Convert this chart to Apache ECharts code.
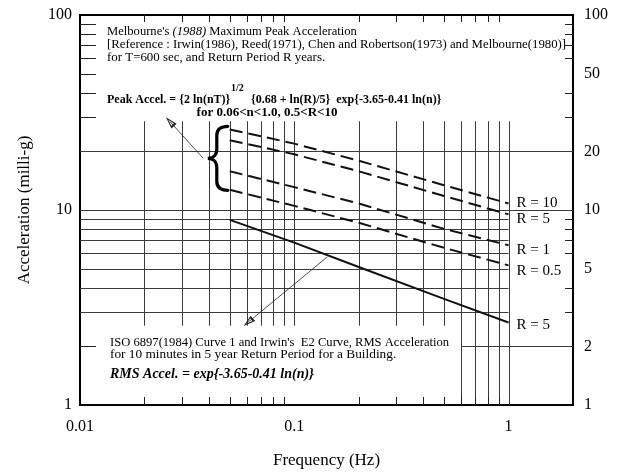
<!DOCTYPE html>
<html>
<head>
<meta charset="utf-8">
<script src="https://cdn.jsdelivr.net/npm/echarts@6/dist/echarts.min.js"></script>
<style>
  html, body { margin: 0; padding: 0; background: #fff; }
  #chart { width: 617px; height: 474px; }
</style>
</head>
<body>
<div id="chart"></div>
<script>
const FONT = '"Liberation Serif", "Times New Roman", serif';

// Frequencies (Hz) at which the curves are sampled
const freq = [0.05, 0.1, 0.2, 0.5, 1.0];

// Maximum peak acceleration (milli-g) for return periods R
const peakR10 = [25.9, 21.9, 17.9, 13.4, 10.8];
const peakR5  = [22.8, 19.3, 15.8, 11.8, 9.5];
const peakR1  = [15.8, 13.1, 10.8, 8.0, 6.6];
const peakR05 = [12.7, 10.5, 8.6, 6.4, 5.2];

// RMS acceleration (milli-g), 5-year return period
const rmsR5 = [8.9, 6.8, 5.1, 3.5, 2.65];

const peakNames = ['R = 10', 'R = 5', 'R = 1', 'R = 0.5'];
const rmsName = 'R = 5';

// Axis tick labels
const xTickLabels = [0.01, 0.1, 1];
const yLeftTickLabels = [1, 10, 100];
const yRightTickLabels = [1, 2, 5, 10, 20, 50, 100];

// Minor tick values along the frame
const xMinorTicks = [0.02, 0.03, 0.04, 0.05, 0.06, 0.07, 0.08, 0.09, 0.2, 0.3, 0.4, 0.5, 0.6, 0.7, 0.8, 0.9];
const yLeftMinorTicks = [2, 30, 40, 50, 60, 70, 80, 90];
const yRightMinorTicks = [3, 4, 6, 7, 8, 9, 30, 40, 60, 70, 80, 90];

// Grid rules: vertical ones in the lower band, and ones reaching the floor
const vRulesBand = [0.02, 0.03, 0.04, 0.05, 0.06, 0.07, 0.08, 0.09, 0.1, 0.2, 0.3, 0.4, 0.5];
const vRulesFloor = [0.6, 0.7, 0.8, 0.9, 1.0];
const vRuleTop = 28.5, vRuleBandBottom = 2.55;
// Horizontal rules: [level, from, to]
const hRules = [
  [20, 0.01, 2], [10, 0.01, 2], [9, 0.01, 1], [8, 0.01, 1], [7, 0.01, 1],
  [6, 0.01, 1], [5, 0.01, 1], [4, 0.01, 1], [3, 0.01, 1], [2, 0.6, 2]
];

// Annotation arrows: [from, to] in (Hz, milli-g)
const noteArrows = [
  [[0.0376, 18.4], [0.0263, 28.4]],
  [[0.1427, 5.75], [0.061, 2.66]]
];
// Where the curly brace grouping the peak curves sits (Hz, milli-g)
const braceAt = [[0.0435, 18.4]];

const X_MIN = 0.01, X_MAX = 2, Y_MIN = 1, Y_MAX = 100;

const ruleData = [];
vRulesBand.forEach(x => ruleData.push([x, vRuleBandBottom, x, vRuleTop]));
vRulesFloor.forEach(x => ruleData.push([x, Y_MIN, x, vRuleTop]));
hRules.forEach(([y, a, b]) => ruleData.push([a, y, b, y]));

// side codes: 0 bottom, 1 top, 2 left, 3 right
const tickData = [];
xMinorTicks.forEach(v => { tickData.push([v, Y_MIN, 0]); tickData.push([v, Y_MAX, 1]); });
yLeftMinorTicks.forEach(v => tickData.push([X_MIN, v, 2]));
yRightMinorTicks.forEach(v => tickData.push([X_MAX, v, 3]));

function crisp(v) { return Math.round(v) + 0.5; }

function renderRule(params, api) {
  const p1 = api.coord([api.value(0), api.value(1)]);
  const p2 = api.coord([api.value(2), api.value(3)]);
  const vertical = api.value(0) === api.value(2);
  const x1 = vertical ? crisp(p1[0]) : p1[0];
  const x2 = vertical ? crisp(p2[0]) : p2[0];
  const y1 = vertical ? p1[1] : crisp(p1[1]);
  const y2 = vertical ? p2[1] : crisp(p2[1]);
  return {
    type: 'line',
    shape: { x1, y1, x2, y2 },
    style: { stroke: '#3a3a3a', lineWidth: 1 }
  };
}

const tickLen = [8, 7, 16, 8];
function renderTick(params, api) {
  const p = api.coord([api.value(0), api.value(1)]);
  const side = api.value(2);
  const len = tickLen[side];
  let shape;
  if (side === 0) shape = { x1: crisp(p[0]), y1: p[1], x2: crisp(p[0]), y2: p[1] - len };
  else if (side === 1) shape = { x1: crisp(p[0]), y1: p[1], x2: crisp(p[0]), y2: p[1] + len };
  else if (side === 2) shape = { x1: p[0], y1: crisp(p[1]), x2: p[0] + len, y2: crisp(p[1]) };
  else shape = { x1: p[0], y1: crisp(p[1]), x2: p[0] - len, y2: crisp(p[1]) };
  return { type: 'line', shape, style: { stroke: '#222', lineWidth: 1 } };
}

// Left curly brace, drawn around its cusp position
function renderBrace(params, api) {
  const p = api.coord([api.value(0), api.value(1)]);
  return {
    type: 'path',
    x: p[0], y: p[1],
    shape: {
      pathData: 'M11,-32 C4,-32 0,-29 0,-23 L0,-9 C0,-3 -4,0 -9,0 C-4,0 0,3 0,9 L0,23 C0,29 4,32 11,32'
    },
    style: { stroke: '#000', lineWidth: 3.2, fill: null, lineCap: 'round' }
  };
}

function matchLabel(list, v) {
  for (const t of list) {
    if (Math.abs(v - t) / t < 1e-6) return String(t);
  }
  return '';
}

const hollowArrow = 'path://M0,0L5,14L-5,14ZM0,4L-2.4,11.6L2.4,11.6Z';

function peakSeries(name, values, offsetY) {
  return {
    type: 'line',
    name,
    data: freq.map((f, i) => [f, values[i]]),
    symbol: 'none',
    lineStyle: { color: '#111', width: 2, type: [13, 6] },
    endLabel: {
      show: true,
      formatter: name,
      fontFamily: FONT,
      fontSize: 15,
      color: '#000',
      distance: 8,
      offset: [0, offsetY]
    },
    silent: true,
    z: 5
  };
}

function note(id, x, y, text, font, align) {
  return {
    type: 'text', id, x, y,
    style: { text, font: font + ' ' + FONT, fill: '#000', verticalAlign: 'middle', align: align || 'left' }
  };
}

const chart = echarts.init(document.getElementById('chart'), null, { renderer: 'canvas' });

const option = {
  animation: false,
  backgroundColor: '#fff',
  textStyle: { fontFamily: FONT },
  grid: {
    left: 80, right: 44, top: 15, bottom: 64,
    show: true, borderColor: '#000', borderWidth: 2, backgroundColor: 'transparent'
  },
  xAxis: [{
    type: 'log', logBase: 10, min: X_MIN, max: X_MAX,
    position: 'bottom',
    axisLine: { show: false },
    axisTick: { show: false },
    splitLine: { show: false },
    axisLabel: {
      fontFamily: FONT, fontSize: 16, color: '#000', margin: 14,
      formatter: v => matchLabel(xTickLabels, v)
    },
    name: 'Frequency (Hz)',
    nameLocation: 'middle',
    nameGap: 47,
    nameTextStyle: { fontFamily: FONT, fontSize: 17, color: '#000' }
  }],
  yAxis: [{
    type: 'log', logBase: 10, min: Y_MIN, max: Y_MAX,
    position: 'left',
    axisLine: { show: false },
    axisTick: { show: false },
    splitLine: { show: false },
    axisLabel: {
      fontFamily: FONT, fontSize: 16, color: '#000', margin: 8,
      padding: [8, 0, 0, 0],
      formatter: v => matchLabel(yLeftTickLabels, v)
    },
    name: 'Acceleration (milli-g)',
    nameLocation: 'middle',
    nameGap: 47,
    nameTextStyle: { fontFamily: FONT, fontSize: 17, color: '#000' }
  }, {
    type: 'value', min: 0, max: 2,
    position: 'right',
    axisLine: { show: false },
    axisTick: { show: false },
    splitLine: { show: false },
    axisLabel: {
      fontFamily: FONT, fontSize: 16, color: '#000', margin: 11,
      padding: [9, 0, 0, 0],
      customValues: yRightTickLabels.map(v => Math.log10(v)),
      formatter: v => String(Math.round(Math.pow(10, v)))
    }
  }],
  series: [
    {
      type: 'custom', name: 'rules', coordinateSystem: 'cartesian2d',
      renderItem: renderRule, data: ruleData,
      encode: { x: [0, 2], y: [1, 3] }, silent: true, clip: false, z: 1
    },
    {
      type: 'custom', name: 'ticks', coordinateSystem: 'cartesian2d',
      renderItem: renderTick, data: tickData,
      encode: { x: 0, y: 1 }, silent: true, clip: false, z: 2
    },
    {
      type: 'custom', name: 'brace', coordinateSystem: 'cartesian2d',
      renderItem: renderBrace, data: braceAt,
      encode: { x: 0, y: 1 }, silent: true, clip: false, z: 6
    },
    peakSeries(peakNames[0], peakR10, 0),
    peakSeries(peakNames[1], peakR5, 5),
    peakSeries(peakNames[2], peakR1, 5),
    peakSeries(peakNames[3], peakR05, 6),
    {
      type: 'line',
      name: 'RMS',
      data: freq.map((f, i) => [f, rmsR5[i]]),
      symbol: 'none',
      lineStyle: { color: '#111', width: 2 },
      endLabel: {
        show: true, formatter: rmsName, fontFamily: FONT, fontSize: 15,
        color: '#000', distance: 8, offset: [0, 3]
      },
      markLine: {
        silent: true,
        symbol: ['none', hollowArrow],
        symbolSize: [7, 12],
        label: { show: false },
        lineStyle: { color: '#222', width: 0.8, type: 'solid' },
        data: noteArrows.map(([a, b]) => [{ coord: a }, { coord: b }])
      },
      silent: true,
      z: 5
    }
  ],
  graphic: [
    {
      type: 'text', id: 'head1', x: 107, y: 32,
      style: {
        text: "{n|Melbourne's }{i|(1988)}{n| Maximum Peak Acceleration}",
        verticalAlign: 'middle',
        rich: {
          n: { fontFamily: FONT, fontSize: 12.6, fill: '#000' },
          i: { fontFamily: FONT, fontSize: 12.6, fontStyle: 'italic', fill: '#000' }
        }
      }
    },
    note('head2', 107, 45, '[Reference : Irwin(1986), Reed(1971), Chen and Robertson(1973) and Melbourne(1980)]', '12.8px'),
    note('head3', 107, 58, 'for T=600 sec, and Return Period R years.', '12.9px'),
    note('peakA', 107, 100, 'Peak Accel. = {2 ln(nT)}', 'bold 12px'),
    note('peakSup', 231, 88, '1/2', 'bold 10px'),
    note('peakB', 251, 100, '{0.68 + ln(R)/5}  exp{-3.65-0.41 ln(n)}', 'bold 12px'),
    note('peakRange', 267, 113, 'for 0.06<n<1.0, 0.5<R<10', 'bold 13px', 'center'),
    note('iso1', 110, 343, "ISO 6897(1984) Curve 1 and Irwin's  E2 Curve, RMS Acceleration", '12.6px'),
    note('iso2', 110, 355, 'for 10 minutes in 5 year Return Period for a Building.', '13.3px'),
    note('rmsFormula', 110, 374, 'RMS Accel. = exp{-3.65-0.41 ln(n)}', 'italic bold 14px')
  ]
};

chart.setOption(option);
</script>
</body>
</html>
